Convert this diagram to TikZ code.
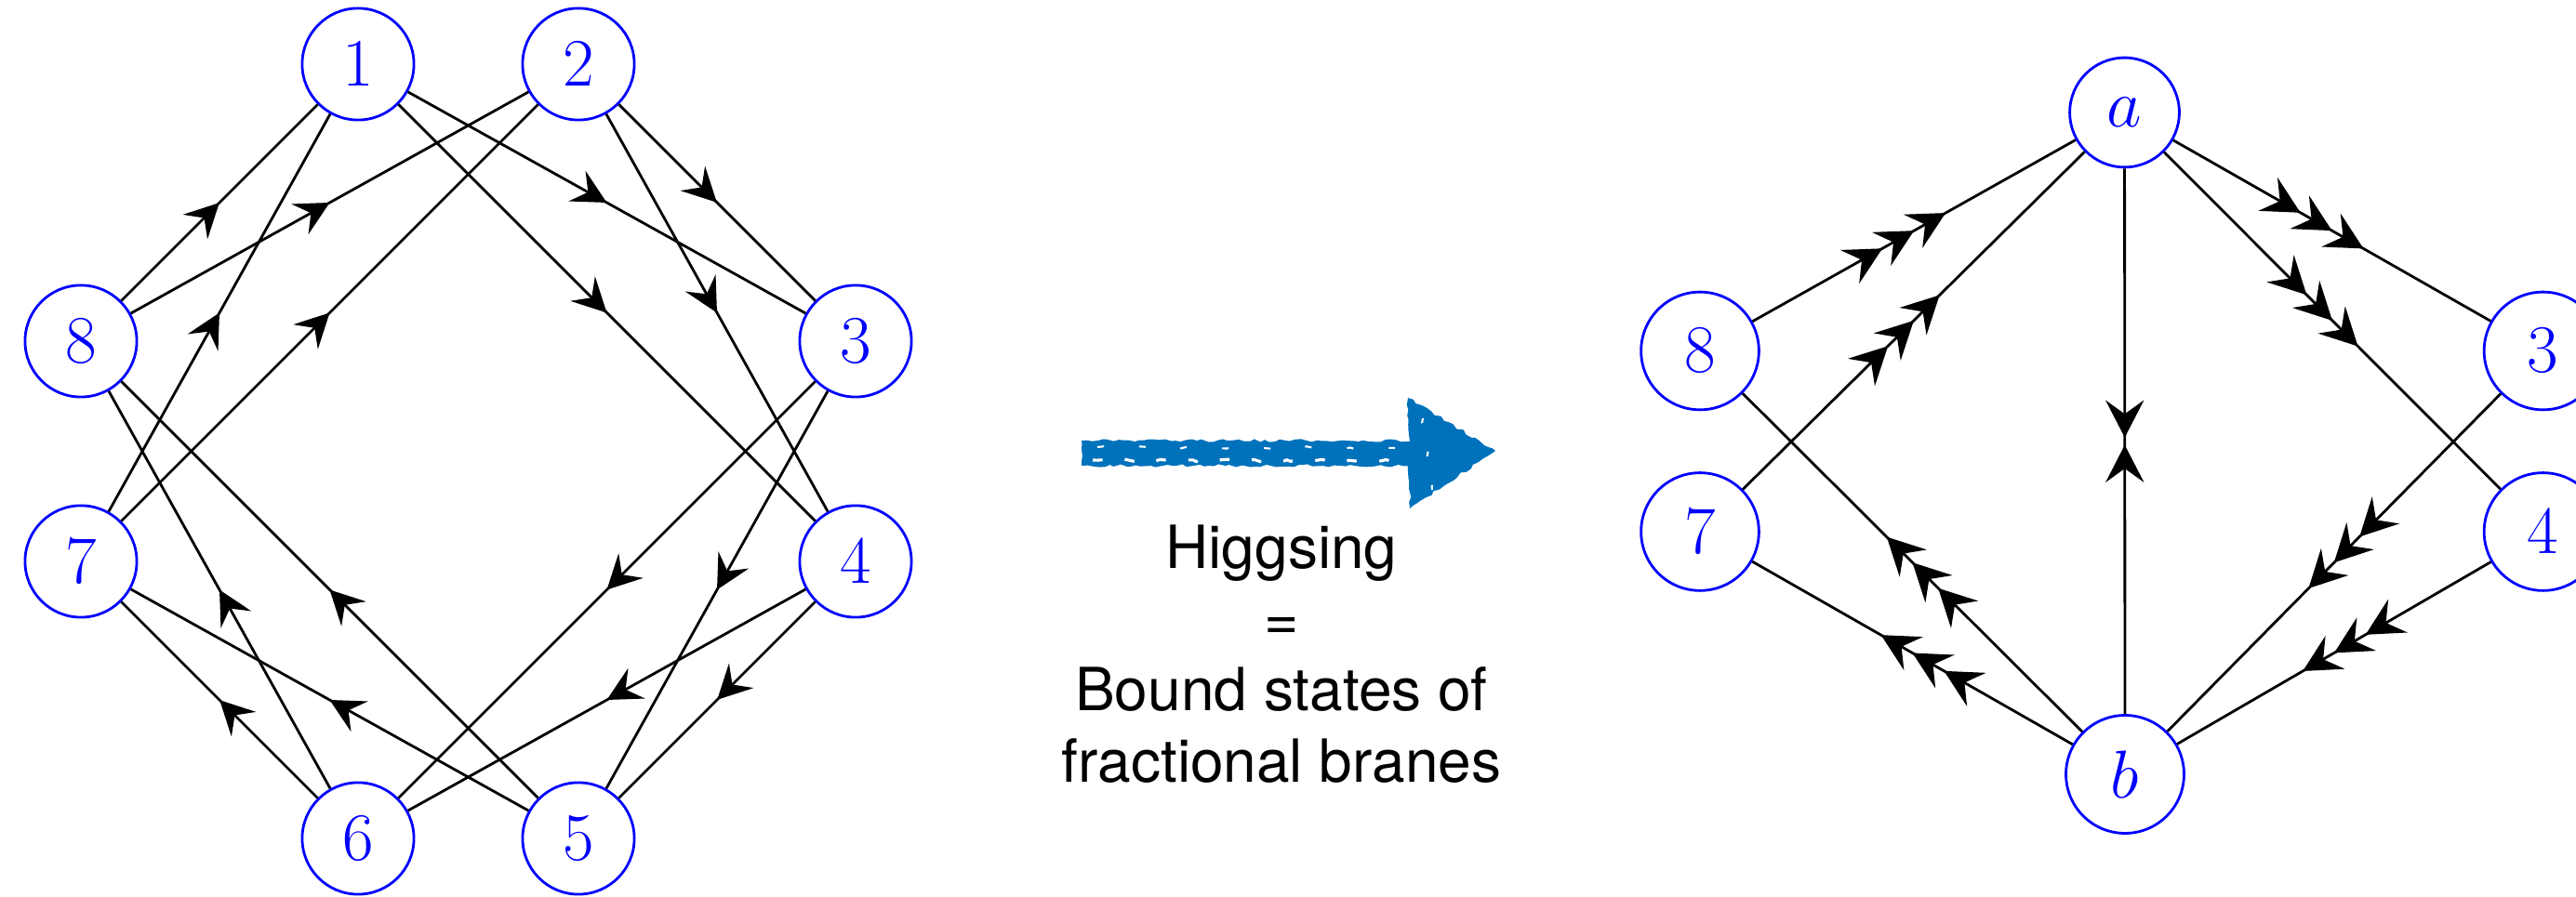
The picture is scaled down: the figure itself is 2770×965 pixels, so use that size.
\documentclass[tikz,border=0pt]{standalone}
\usepackage{fontspec}
\newfontfamily\heros{TeX Gyre Heros}
\usetikzlibrary{arrows.meta,decorations.markings,decorations.pathmorphing}
\definecolor{brushblue}{RGB}{0,114,188}
\tikzset{
  lq/.style={circle, draw=blue, text=blue, line width=0.8pt, inner sep=6.33pt, font=\fontsize{20}{24}\selectfont},
  rq/.style={circle, draw=blue, text=blue, line width=0.8pt, inner sep=6.97pt, font=\fontsize{22}{26}\selectfont},
  ltip/.tip={Stealth[length=10.4pt,width=10.6pt,inset=3.85pt]},
  rtip/.tip={Stealth[length=11.4pt,width=11.7pt,inset=4.2pt]},
  ln/.style={line width=0.8pt},
  qone/.style={ln, postaction={decorate}, decoration={markings, mark=at position 0.5 with {\arrow{ltip}}}},
  qthree/.style={ln, postaction={decorate}, decoration={markings, mark=at position 0.5 with {\arrow{rtip}\pgftransformxshift{0.39cm}\arrow{rtip}\pgftransformxshift{-0.78cm}\arrow{rtip}}}},
  qbow/.style={ln, postaction={decorate}, decoration={markings, mark=at position 0.5 with {\pgftransformxshift{-0.04cm}\arrow{rtip}\pgftransformxshift{0.08cm}\arrowreversed{rtip}}}},
  lab/.style={anchor=base, inner sep=0pt, font=\heros\fontsize{18.2}{22}\selectfont},
  rough/.style={decorate, decoration={random steps, segment length=1.6pt, amplitude=0.45pt}}
}
\begin{document}
\begin{tikzpicture}[x=0.01cm,y=-0.01cm]
\pgfmathsetseed{7}
\useasboundingbox (0,0) rectangle (2770,965);
% left quiver
\node[lq] (L1) at (385,69) {$1$};
\node[lq] (L2) at (622,69) {$2$};
\node[lq] (L3) at (920,367) {$3$};
\node[lq] (L4) at (920,604) {$4$};
\node[lq] (L5) at (622,902) {$5$};
\node[lq] (L6) at (385,902) {$6$};
\node[lq] (L7) at (87,604) {$7$};
\node[lq] (L8) at (87,367) {$8$};
\draw[qone] (L8) -- (L1);
\draw[qone] (L8) -- (L2);
\draw[qone] (L7) -- (L1);
\draw[qone] (L7) -- (L2);
\draw[qone] (L1) -- (L3);
\draw[qone] (L1) -- (L4);
\draw[qone] (L2) -- (L3);
\draw[qone] (L2) -- (L4);
\draw[qone] (L3) -- (L6);
\draw[qone] (L3) -- (L5);
\draw[qone] (L4) -- (L6);
\draw[qone] (L4) -- (L5);
\draw[qone] (L6) -- (L8);
\draw[qone] (L5) -- (L8);
\draw[qone] (L6) -- (L7);
\draw[qone] (L5) -- (L7);
% brush arrow
\fill[brushblue, rough] (1163,474) -- (1525,474) -- (1525,501) -- (1163,501) -- cycle;
\fill[brushblue, rough] (1514,428) -- (1608,485) -- (1516,547) -- cycle;
\fill[brushblue] (1520,440) -- (1596,485) -- (1522,535) -- cycle;
\draw[white, line width=0.9pt, dash pattern=on 3pt off 7pt, rough]
  (1175,495) -- (1505,496);
\draw[white, line width=0.6pt, dash pattern=on 2pt off 11pt, rough]
  (1180,481) -- (1500,482);
\draw[white, line width=0.6pt, dash pattern=on 1.5pt off 9pt, rough]
  (1530,450) -- (1540,530);
% label
\node[lab] (t1) at (1378,612) {Higgsing};
\node[lab] (t2) at (1378,689) {=};
\node[lab] (t3) at (1378,765) {Bound states of};
\node[lab] (t4) at (1378,842) {fractional branes};
% right quiver
\node[rq] (Ra) at (2284.5,121) {$a$};
\node[rq] (Rb) at (2285,833) {$b$};
\node[rq] (R8) at (1828,377.5) {$8$};
\node[rq] (R7) at (1828,572) {$7$};
\node[rq] (R3) at (2734.5,377.5) {$3$};
\node[rq] (R4) at (2734.5,572) {$4$};
\draw[qthree] (R8) -- (Ra);
\draw[qthree] (R7) -- (Ra);
\draw[qthree] (Ra) -- (R3);
\draw[qthree] (Ra) -- (R4);
\draw[qthree] (R3) -- (Rb);
\draw[qthree] (R4) -- (Rb);
\draw[qthree] (Rb) -- (R8);
\draw[qthree] (Rb) -- (R7);
\draw[qbow] (Ra) -- (Rb);
\end{tikzpicture}
\end{document}
